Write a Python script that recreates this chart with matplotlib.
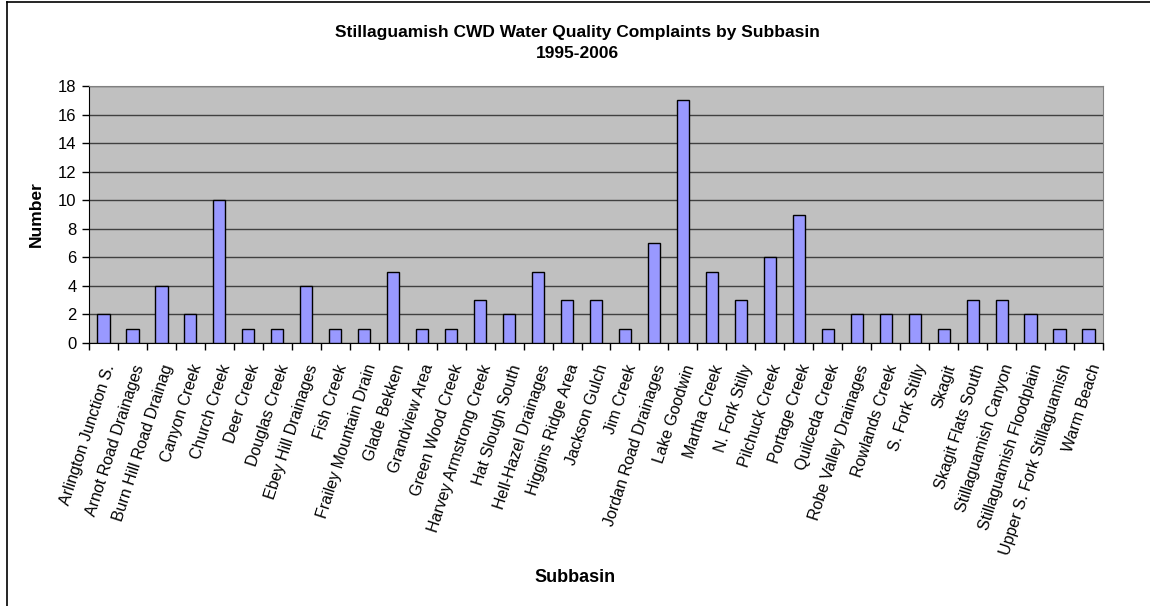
import matplotlib.pyplot as plt
from matplotlib.lines import Line2D

plt.rcParams['font.family'] = ['Liberation Sans', 'DejaVu Sans']

subbasins = [
    'Arlington Junction S.', 'Arnot Road Drainages', 'Burn Hill Road Drainag',
    'Canyon Creek', 'Church Creek', 'Deer Creek', 'Douglas Creek',
    'Ebey Hill Drainages', 'Fish Creek', 'Frailey Mountain Drain',
    'Glade Bekken', 'Grandview Area', 'Green Wood Creek',
    'Harvey Armstrong Creek', 'Hat Slough South', 'Hell-Hazel Drainages',
    'Higgins Ridge Area', 'Jackson Gulch', 'Jim Creek',
    'Jordan Road Drainages', 'Lake Goodwin', 'Martha Creek',
    'N. Fork Stilly', 'Pilchuck Creek', 'Portage Creek', 'Quilceda Creek',
    'Robe Valley Drainages', 'Rowlands Creek', 'S. Fork Stilly', 'Skagit',
    'Skagit Flats South', 'Stillaguamish Canyon', 'Stillaguamish Floodplain',
    'Upper S. Fork Stillaguamish', 'Warm Beach',
]
complaints = [2, 1, 4, 2, 10, 1, 1, 4, 1, 1, 5, 1, 1, 3, 2, 5, 3, 3, 1, 7,
              17, 5, 3, 6, 9, 1, 2, 2, 2, 1, 3, 3, 2, 1, 1]
y_ticks = list(range(0, 19, 2))

fig = plt.figure(figsize=(11.5, 6.06), dpi=100)
ax = fig.add_axes([89 / 1150, 1 - 343 / 606, (1103 - 89) / 1150, (343 - 86) / 606])

ax.set_facecolor('#C0C0C0')
x = range(len(subbasins))
ax.bar(x, complaints, width=0.42, color='#9999FF', edgecolor='black',
       linewidth=1.0, zorder=3)

ax.set_xlim(-0.5, len(subbasins) - 0.5)
ax.set_ylim(0, 18)
ax.set_yticks(y_ticks)
ax.yaxis.grid(True, color='#404040', linewidth=1.0, zorder=0)
ax.set_axisbelow(True)

# category boundary ticks, labels centred under the bars
ax.set_xticks([i - 0.5 for i in range(len(subbasins) + 1)])
ax.set_xticklabels([])
ax.set_xticks(list(x), minor=True)
ax.set_xticklabels(subbasins, minor=True, rotation=72, ha='right',
                   rotation_mode='anchor', fontsize=11.5)
ax.tick_params(axis='x', which='minor', length=0, pad=14)
ax.tick_params(axis='x', which='major', length=5, direction='out', width=1)
ax.tick_params(axis='y', length=5, direction='out', width=1, labelsize=12,
               pad=4)

for side in ['top', 'right']:
    ax.spines[side].set_color('#808080')
for side in ['left', 'bottom']:
    ax.spines[side].set_color('black')

ax.set_ylabel('Number', fontsize=12.5, fontweight='bold', labelpad=10)
fig.text(0.5, 1 - 577 / 606, 'Subbasin', ha='center', va='center',
         fontsize=13, fontweight='bold')
fig.text(0.502, 1 - 32 / 606, 'Stillaguamish CWD Water Quality Complaints by Subbasin',
         ha='center', va='center', fontsize=12.5, fontweight='bold')
fig.text(0.502, 1 - 54 / 606, '1995-2006', ha='center', va='center',
         fontsize=12.5, fontweight='bold')

fig.add_artist(Line2D([7 / 1150, 7 / 1150], [0, 1 - 2 / 606], color='black',
                      linewidth=1.2, transform=fig.transFigure))
fig.add_artist(Line2D([7 / 1150, 1], [1 - 2 / 606, 1 - 2 / 606], color='black',
                      linewidth=1.2, transform=fig.transFigure))

fig.savefig('out.png', dpi=100)
